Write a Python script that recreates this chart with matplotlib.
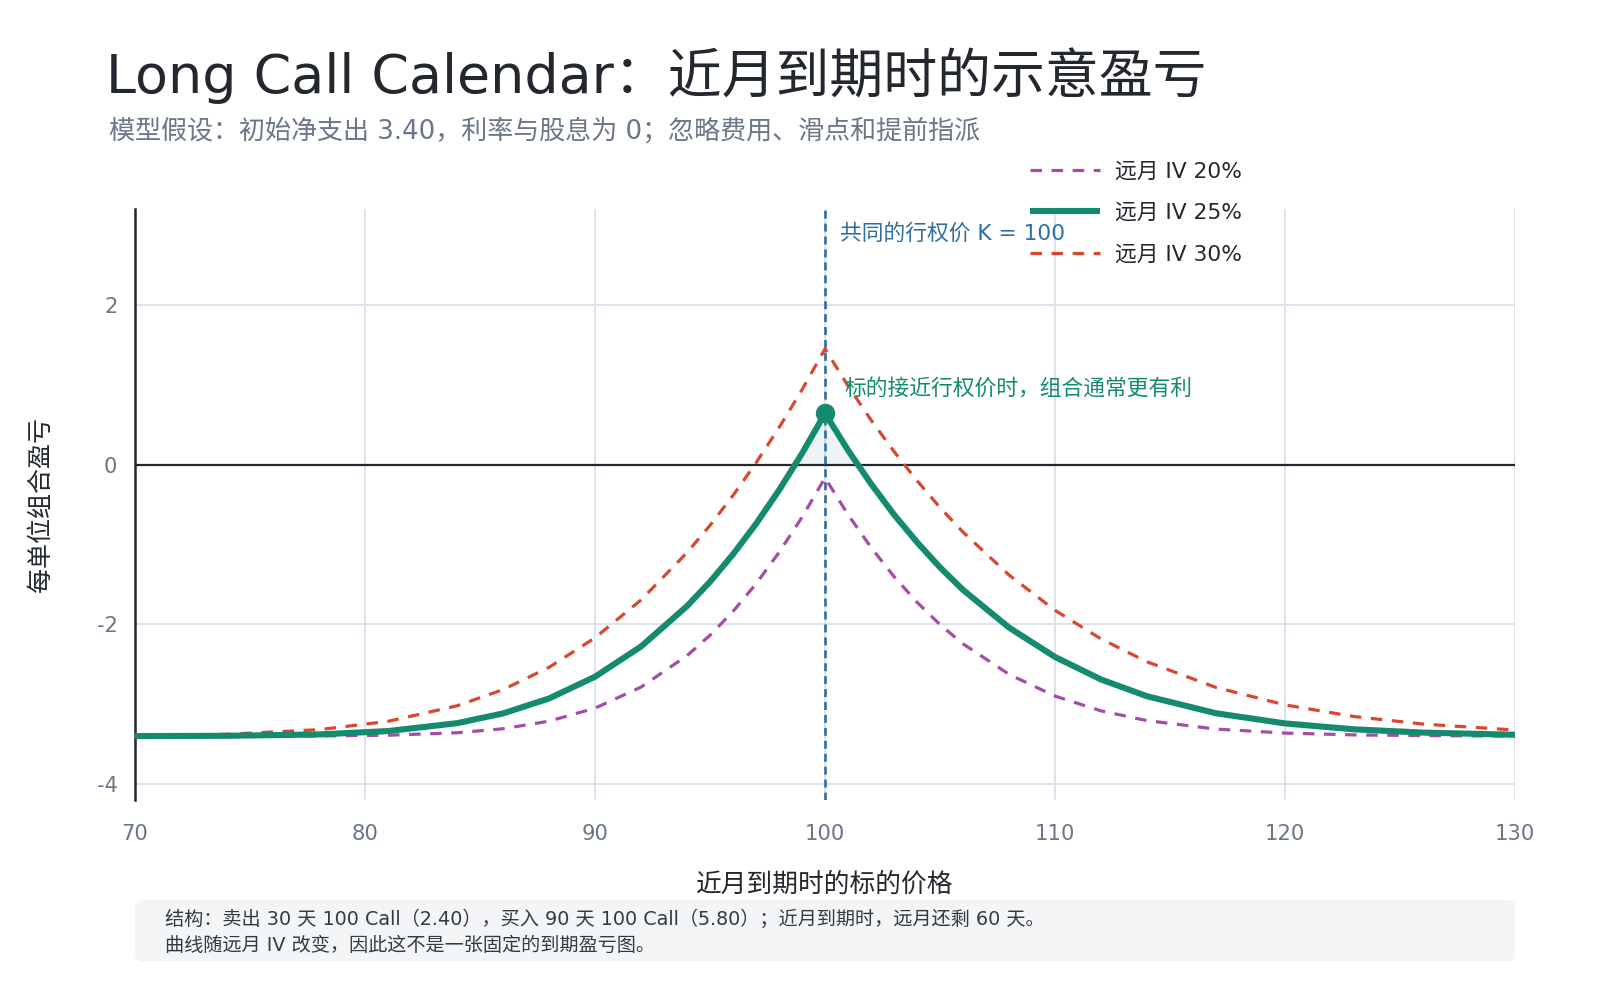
import matplotlib.pyplot as plt
from matplotlib.patches import FancyBboxPatch

plt.rcParams['font.family'] = ['DejaVu Sans', 'Noto Sans CJK SC']
plt.rcParams['axes.unicode_minus'] = False

# 近月到期时的标的价格 (x) and the P&L of each curve
price = [70, 74, 78, 81, 84, 86, 88, 90, 92, 94, 95, 96, 97, 98, 99, 100,
         101, 102, 103, 104, 105, 106, 108, 110, 112, 114, 117, 120, 123,
         126, 130]
pnl_iv20 = [-3.400, -3.400, -3.398, -3.389, -3.358, -3.308, -3.213, -3.050,
            -2.786, -2.392, -2.137, -1.838, -1.493, -1.100, -0.659, -0.166,
            -0.627, -1.038, -1.403, -1.724, -2.004, -2.245, -2.627, -2.899,
            -3.084, -3.206, -3.312, -3.362, -3.385, -3.394, -3.399]
pnl_iv25 = [-3.400, -3.396, -3.379, -3.337, -3.238, -3.116, -2.929, -2.656,
            -2.278, -1.772, -1.467, -1.123, -0.742, -0.321, 0.139, 0.642,
            0.179, -0.241, -0.627, -0.972, -1.288, -1.569, -2.041, -2.409,
            -2.691, -2.901, -3.114, -3.241, -3.315, -3.356, -3.383]
pnl_iv30 = [-3.395, -3.377, -3.319, -3.215, -3.021, -2.818, -2.539, -2.169,
            -1.695, -1.102, -0.761, -0.386, 0.022, 0.463, 0.937, 1.449,
            0.985, 0.558, 0.163, -0.202, -0.538, -0.846, -1.383, -1.825,
            -2.183, -2.470, -2.791, -3.009, -3.155, -3.249, -3.324]
strike = 100
peak_pnl = 0.642

x_ticks = [70, 80, 90, 100, 110, 120, 130]
y_ticks = [-4, -2, 0, 2]
y_tick_labels = ["-4", "-2", "0", "2"]
legend_labels = ["远月 IV 20%", "远月 IV 25%", "远月 IV 30%"]

PURPLE = "#a54ca6"
GREEN = "#148a6e"
RED = "#d9482c"
BLUE = "#2f6ea3"
GRID = "#dde3ec"
MUTED = "#6b7689"
INK = "#23272e"
DASH = (0, (3.6, 3.0))


def draw_curves(ax):
    """Three far-month IV scenarios, the base case drawn solid"""
    ax.plot(price, pnl_iv20, color=PURPLE, lw=2.3, ls=DASH,
            label=legend_labels[0], zorder=3)
    ax.plot(price, pnl_iv25, color=GREEN, lw=4.4, label=legend_labels[1],
            zorder=4, solid_capstyle="butt", solid_joinstyle="round")
    ax.plot(price, pnl_iv30, color=RED, lw=2.3, ls=DASH,
            label=legend_labels[2], zorder=3)
    # profit zone of the base case
    above = [v > 0 for v in pnl_iv25]
    ax.fill_between(price, pnl_iv25, 0, where=above, interpolate=True,
                    color=GREEN, alpha=0.08, lw=0, zorder=2)
    ax.plot([strike], [peak_pnl], "o", color=GREEN, ms=13, zorder=5)


def style_axes(ax):
    ax.set_xlim(70, 130)
    ax.set_ylim(-4.2, 3.2)
    ax.set_xticks(x_ticks)
    ax.set_yticks(y_ticks)
    ax.set_yticklabels(y_tick_labels)
    ax.grid(True, color=GRID, lw=1.4, zorder=0)
    ax.set_axisbelow(True)
    for side in ["top", "right", "bottom"]:
        ax.spines[side].set_visible(False)
    ax.spines["left"].set_color(INK)
    ax.spines["left"].set_linewidth(1.8)
    ax.tick_params(length=0, labelsize=15.2, labelcolor=MUTED)
    ax.tick_params(axis="x", pad=17.6)
    ax.tick_params(axis="y", pad=12.7)
    ax.axhline(0, color=INK, lw=1.6, zorder=2.5)
    ax.axvline(strike, color=BLUE, lw=1.9, ls=(0, (3.0, 1.9)), zorder=2.6)


fig = plt.figure(figsize=(16, 10), dpi=100)
ax = fig.add_axes([0.0844, 0.200, 0.8625, 0.591])
draw_curves(ax)
style_axes(ax)

ax.text(100.65, 2.90, "共同的行权价 K = 100", color=BLUE, fontsize=15.7,
        va="center", ha="left")
ax.text(100.83, 0.96, "标的接近行权价时，组合通常更有利", color=GREEN,
        fontsize=15.7, va="center", ha="left")

fig.legend(loc="upper left", bbox_to_anchor=(0.6438, 0.8385), frameon=False,
           fontsize=15.7, handlelength=3.2, handletextpad=0.69,
           labelspacing=0.99, borderpad=0, borderaxespad=0,
           labelcolor=INK)

fig.text(0.0663, 0.924, "Long Call Calendar：近月到期时的示意盈亏",
         fontsize=38.8, color=INK, va="center", ha="left")
fig.text(0.068, 0.869,
         "模型假设：初始净支出 3.40，利率与股息为 0；忽略费用、滑点和提前指派",
         fontsize=18.75, color=MUTED, va="center", ha="left")
fig.text(0.5156, 0.115, "近月到期时的标的价格", fontsize=18.5, color=INK,
         va="center", ha="center")
fig.text(0.0256, 0.495, "每单位组合盈亏", fontsize=18, color=INK,
         va="center", ha="center", rotation=90)

# footnote box
box = FancyBboxPatch((0.0844, 0.038), 0.8625, 0.062,
                     boxstyle="round,pad=0,rounding_size=0.006",
                     transform=fig.transFigure, facecolor="#f4f5f7",
                     edgecolor="none")
fig.patches.append(box)
fig.text(0.1031, 0.0805,
         "结构：卖出 30 天 100 Call（2.40），买入 90 天 100 Call（5.80）；"
         "近月到期时，远月还剩 60 天。",
         fontsize=13.8, color="#333a44", va="center", ha="left")
fig.text(0.1031, 0.055, "曲线随远月 IV 改变，因此这不是一张固定的到期盈亏图。",
         fontsize=13.8, color="#333a44", va="center", ha="left")

fig.savefig("out.png", dpi=100)
